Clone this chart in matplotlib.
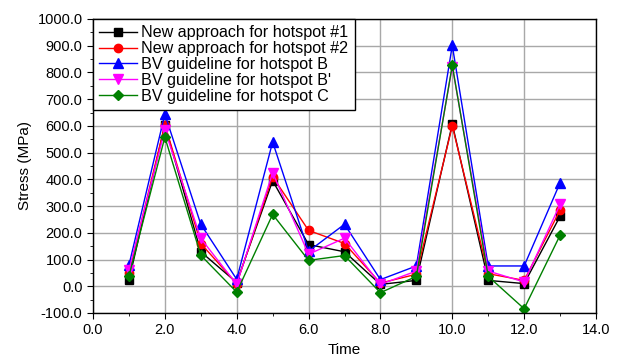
import matplotlib
matplotlib.use("Agg")
import matplotlib.pyplot as plt
from matplotlib.ticker import MultipleLocator, FormatStrFormatter

plt.rcParams['font.family'] = ['Liberation Sans', 'DejaVu Sans']

time = [1, 2, 3, 4, 5, 6, 7, 8, 9, 10, 11, 12, 13]
new_hs1 = [22, 604, 129, 14, 395, 156, 129, 7, 22, 607, 22, 10, 262]
new_hs2 = [50, 605, 160, 10, 410, 209, 160, 12, 45, 600, 47, 22, 285]
bv_b = [79, 644, 232, 26, 540, 131, 232, 25, 76, 901, 76, 76, 387]
bv_bp = [60, 585, 179, 7, 425, 120, 180, 7, 57, 822, 57, 16, 306]
bv_c = [38, 558, 116, -22, 269, 97, 115, -24, 37, 827, 37, -84, 191]

labels = ["New approach for hotspot #1", "New approach for hotspot #2",
          "BV guideline for hotspot B", "BV guideline for hotspot B'",
          "BV guideline for hotspot C"]

fig = plt.figure(figsize=(6.22, 3.58), dpi=100)
ax = fig.add_axes([93/622, 45/358, 503/622, 294/358])

styles = [
    (new_hs1, 'black', 's', 5.5),
    (new_hs2, 'red', 'o', 6),
    (bv_b, 'blue', '^', 6.5),
    (bv_bp, 'magenta', 'v', 6.5),
    (bv_c, 'green', 'D', 5),
]
for (vals, c, m, ms), lab in zip(styles, labels):
    ax.plot(time, vals, color=c, marker=m, markersize=ms, lw=1, label=lab,
            markeredgecolor=c, markerfacecolor=c)

ax.set_xlim(0, 14)
ax.set_ylim(-100, 1000)
ax.xaxis.set_major_locator(MultipleLocator(2))
ax.xaxis.set_minor_locator(MultipleLocator(1))
ax.yaxis.set_major_locator(MultipleLocator(100))
ax.yaxis.set_minor_locator(MultipleLocator(50))
ax.xaxis.set_major_formatter(FormatStrFormatter('%.1f'))
ax.yaxis.set_major_formatter(FormatStrFormatter('%.1f'))
ax.tick_params(which='both', direction='out', top=False, right=False, labelsize=10.5, colors='black')
ax.tick_params(which='major', length=4)
ax.tick_params(which='minor', length=2.5)
ax.grid(True, which='major', color='#a8a8a8', lw=1)
ax.set_axisbelow(True)
for s in ax.spines.values():
    s.set_linewidth(1)

ax.set_ylabel("Stress (MPa)", fontsize=11)
ax.set_xlabel("Time", fontsize=11, labelpad=4)

leg = ax.legend(loc='upper left', borderaxespad=0, fontsize=11.6, frameon=True,
                fancybox=False, edgecolor='black', framealpha=1,
                handlelength=2.3, labelspacing=0.05, borderpad=0.4, handletextpad=0.3)
leg.get_frame().set_linewidth(1)

fig.savefig("out.png", dpi=100)
